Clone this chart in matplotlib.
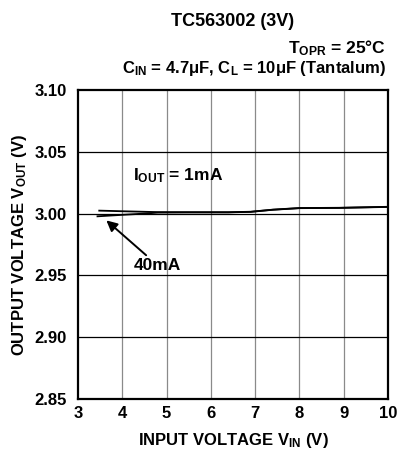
import matplotlib.pyplot as plt

plt.rcParams['font.family'] = ['Liberation Sans', 'DejaVu Sans']
plt.rcParams['font.weight'] = 'bold'
plt.rcParams['axes.labelweight'] = 'bold'
plt.rcParams['mathtext.fontset'] = 'custom'
plt.rcParams['mathtext.rm'] = 'Liberation Sans:bold'
plt.rcParams['mathtext.it'] = 'Liberation Sans:bold'
plt.rcParams['mathtext.bf'] = 'Liberation Sans:bold'

# Data
vin_1ma = [3.48, 4.0, 4.8, 5.5, 6.4, 6.9, 7.4, 8.0, 8.9, 10.0]
vout_1ma = [3.0024, 3.0019, 3.0012, 3.0011, 3.0011, 3.0015, 3.0032, 3.0045, 3.0047, 3.0055]
vin_40ma = [3.44, 4.0, 4.5, 4.8, 5.5, 6.4, 6.9, 7.4, 8.0, 8.9, 10.0]
vout_40ma = [2.9978, 2.9990, 3.0000, 3.0008, 3.0010, 3.0010, 3.0014, 3.0031, 3.0044, 3.0046, 3.0054]
xticks = [3, 4, 5, 6, 7, 8, 9, 10]
yticks = [2.85, 2.90, 2.95, 3.00, 3.05, 3.10]

W, H = 401, 449
fig = plt.figure(figsize=(W / 100, H / 100), dpi=100)
ax = fig.add_axes([78 / W, 1 - 399 / H, 310 / W, 309 / H])

ax.plot(vin_1ma, vout_1ma, color='black', lw=1.3)
ax.plot(vin_40ma, vout_40ma, color='black', lw=1.3)

ax.set_xlim(3, 10)
ax.set_ylim(2.85, 3.10)
ax.set_xticks(xticks)
ax.set_yticks(yticks)
ax.set_yticklabels(['%.2f' % v for v in yticks])
ax.tick_params(length=0, labelsize=12, width=0)
ax.tick_params(axis='x', pad=5)
ax.tick_params(axis='y', pad=8)

for v in xticks[1:-1]:
    ax.axvline(v, color='#8a8a8a', lw=0.9, zorder=0)
for v in yticks[1:-1]:
    ax.axhline(v, color='black', lw=0.9, zorder=0)
for s in ax.spines.values():
    s.set_linewidth(1.6)

ax.text(4.25, 3.031, 'I$_{\\mathrm{OUT}}$ = 1mA', fontsize=12.5, va='center', ha='left')
ax.annotate('40mA', xy=(3.64, 2.9945), xytext=(4.27, 2.958), fontsize=12.5,
            va='center', ha='left',
            arrowprops=dict(arrowstyle='-|>', color='black', lw=1.4,
                            mutation_scale=16, shrinkA=0, shrinkB=0))

ax.set_xlabel('INPUT VOLTAGE V$_{\\mathrm{IN}}$ (V)', fontsize=12, labelpad=7)
ax.set_ylabel('OUTPUT VOLTAGE V$_{\\mathrm{OUT}}$ (V)', fontsize=12, labelpad=4)

fig.text(233 / W, 1 - 22 / H, 'TC563002 (3V)', fontsize=13, ha='center', va='center')
fig.text(386 / W, 1 - 48 / H, 'T$_{\\mathrm{OPR}}$ = 25°C', fontsize=12.5, ha='right', va='center')
fig.text(386 / W, 1 - 69 / H, 'C$_{\\mathrm{IN}}$ = 4.7μF, C$_{\\mathrm{L}}$ = 10μF (Tantalum)',
         fontsize=12, ha='right', va='center')

fig.savefig('out.png', dpi=100)
